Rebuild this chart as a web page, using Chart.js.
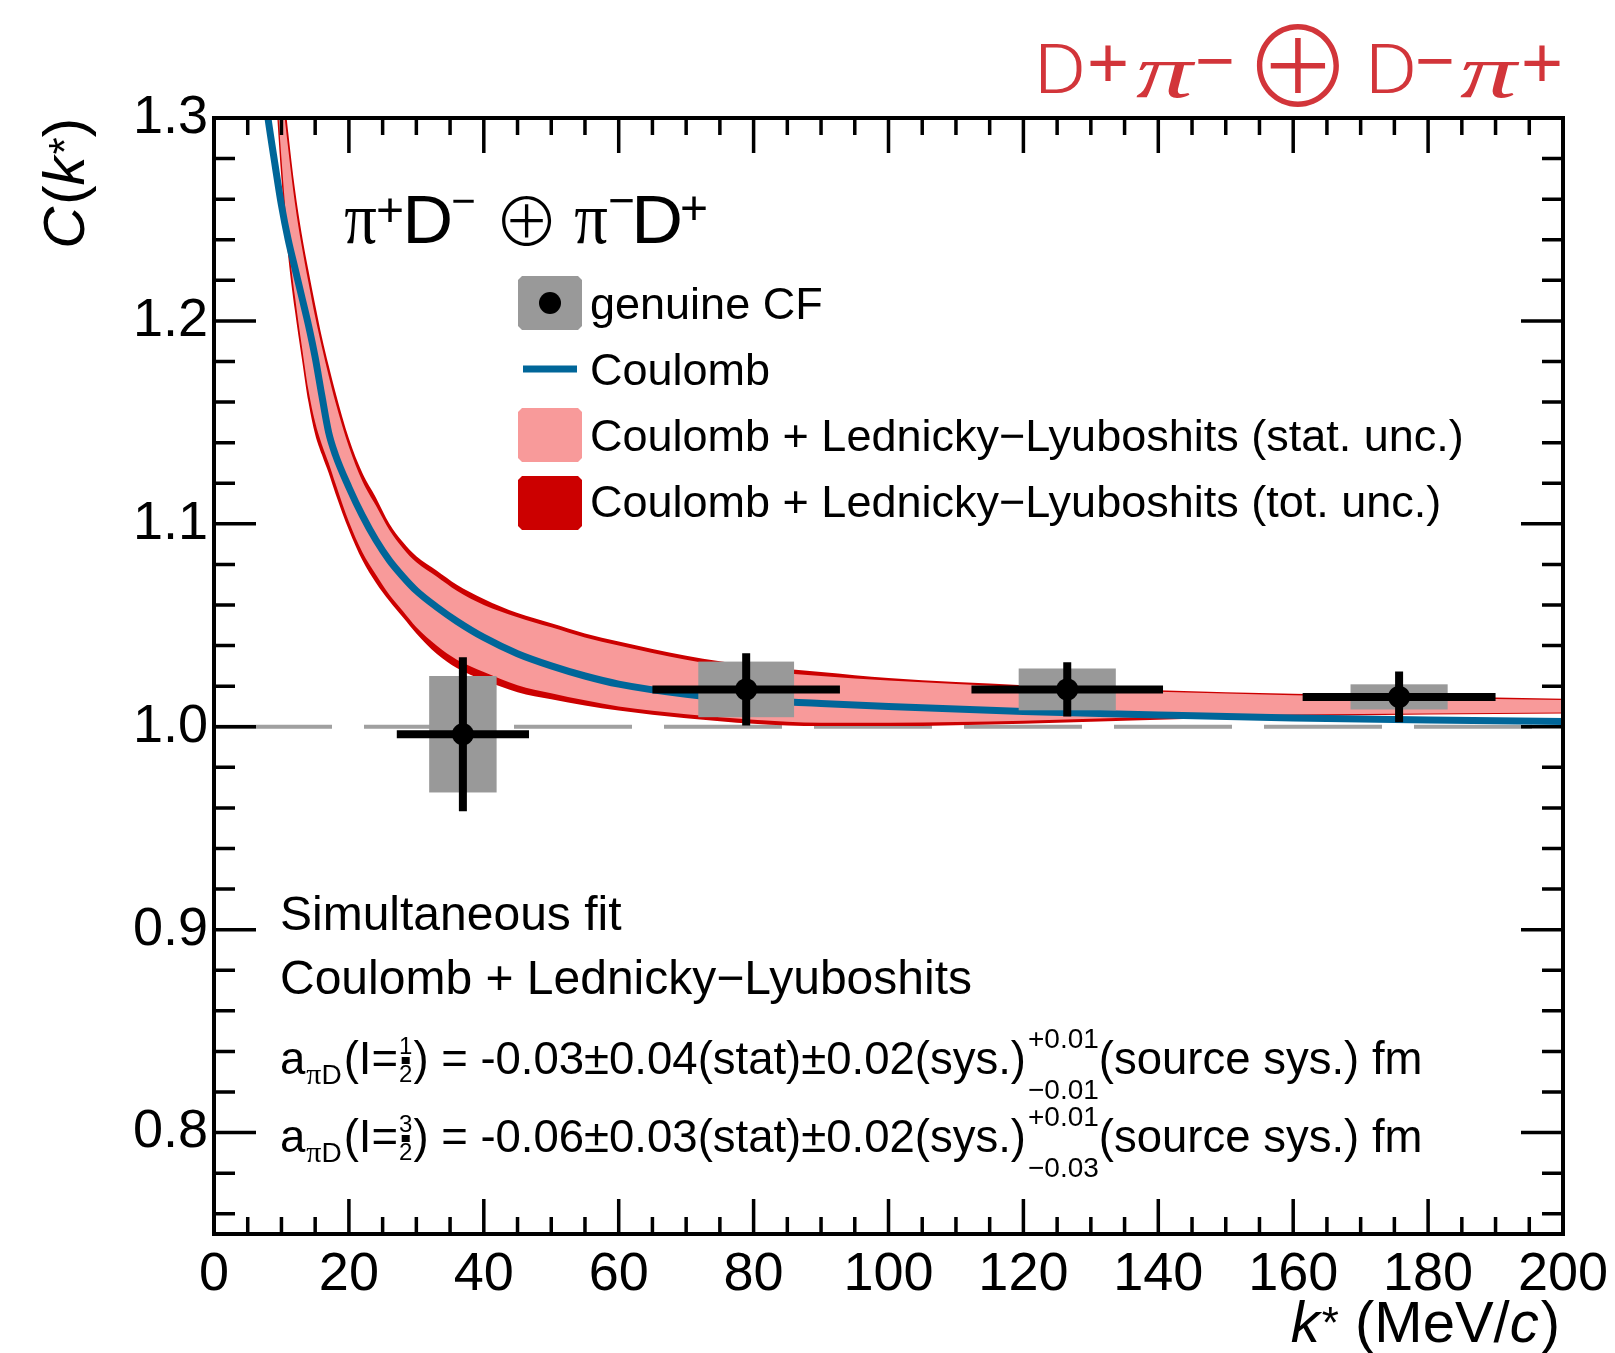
<!DOCTYPE html>
<html><head><meta charset="utf-8">
<script src="https://cdn.jsdelivr.net/npm/chart.js@4.4.1/dist/chart.umd.min.js"></script>
<style>html,body{margin:0;padding:0;background:#fff;}canvas{display:block;}</style>
</head><body>
<canvas id="c" width="1615" height="1353"></canvas>
<script>
// ---------------- data ----------------
const kGrid      = [9, 10, 11, 12, 13, 14, 15, 16, 17, 18, 20, 22, 24, 26, 28, 30, 33, 36, 40, 45, 50, 55, 60, 70, 80, 90, 100, 120, 140, 160, 180, 200];
const totUpper   = [1.360, 1.325, 1.293, 1.265, 1.243, 1.225, 1.208, 1.192, 1.178, 1.165, 1.142, 1.125, 1.113, 1.100, 1.091, 1.084, 1.077, 1.070, 1.063, 1.056, 1.051, 1.046, 1.042, 1.035, 1.030, 1.027, 1.024, 1.0205, 1.018, 1.0162, 1.015, 1.0138];
const statUpper  = [1.350, 1.315, 1.285, 1.258, 1.237, 1.219, 1.202, 1.187, 1.173, 1.160, 1.138, 1.121, 1.109, 1.097, 1.088, 1.081, 1.074, 1.067, 1.060, 1.054, 1.049, 1.044, 1.040, 1.033, 1.028, 1.025, 1.0228, 1.0195, 1.0172, 1.0155, 1.0143, 1.0132];
const statLower  = [1.330, 1.280, 1.240, 1.212, 1.188, 1.166, 1.150, 1.139, 1.130, 1.120, 1.101, 1.086, 1.075, 1.065, 1.057, 1.049, 1.040, 1.033, 1.027, 1.0205, 1.0165, 1.013, 1.010, 1.0062, 1.0035, 1.002, 1.002, 1.003, 1.0048, 1.006, 1.0065, 1.007];
const totLower   = [1.320, 1.270, 1.232, 1.205, 1.182, 1.160, 1.144, 1.134, 1.125, 1.115, 1.097, 1.082, 1.071, 1.062, 1.054, 1.046, 1.036, 1.029, 1.023, 1.017, 1.0135, 1.0105, 1.008, 1.0042, 1.0015, 1.0003, 1.0003, 1.0015, 1.0035, 1.0052, 1.006, 1.0065];

const coulombK   = [7, 8, 9, 10, 11, 12, 13, 14, 15, 16, 17, 18, 20, 22, 24, 26, 28, 30, 33, 36, 40, 45, 50, 55, 60, 70, 80, 90, 100, 120, 140, 160, 180, 200];
const coulombC   = [1.325, 1.300, 1.278, 1.257, 1.240, 1.226, 1.212, 1.198, 1.182, 1.163, 1.145, 1.134, 1.118, 1.104, 1.092, 1.082, 1.074, 1.067, 1.059, 1.052, 1.044, 1.036, 1.030, 1.025, 1.021, 1.016, 1.013, 1.0115, 1.010, 1.0075, 1.0058, 1.0043, 1.0033, 1.0026];

const dataK            = [36.9, 78.9, 126.5, 175.7];
const dataC            = [0.9963, 1.0184, 1.0184, 1.0147];
const dataStatErr      = [0.038, 0.0178, 0.0134, 0.0125];
const dataKErr         = [9.8, 13.9, 14.2, 14.3];
const dataSysErr       = [0.0287, 0.0137, 0.0103, 0.0062];
const dataSysHalfWidth = [5.0, 7.1, 7.2, 7.2];

const baselineK  = [0, 200];
const baselineC  = [1.0, 1.0];

const xTickValues = [0, 20, 40, 60, 80, 100, 120, 140, 160, 180, 200];
const yTickValues = [0.8, 0.9, 1.0, 1.1, 1.2, 1.3];
const xMinorStep = 5, yMinorStep = 0.02;
const xRange = [0, 200], yRange = [0.75, 1.3];

// ---------------- style ----------------
const BLUE = '#006699', PINK = '#F89A9A', RED = '#CC0000', GRAY = '#999999', TITLE_RED = '#D2353A';
const SANS = '"Liberation Sans", Arial, Helvetica, sans-serif';
const SERIF = '"Liberation Serif", "Times New Roman", serif';
const OPLUS = '"Noto Sans CJK JP", "DejaVu Sans", sans-serif';

const pts = (xs, ys) => xs.map((v, i) => ({x: v, y: ys[i]}));
const band = {pointRadius: 0, borderWidth: 0, cubicInterpolationMode: 'monotone', clip: 0};

function drawRuns(ctx, x, y, runs, measureOnly) {
  let cx = x;
  for (const r of runs) {
    if (r.stack) {
      ctx.font = r.f;
      const w1 = ctx.measureText(r.stack[0]).width, w2 = ctx.measureText(r.stack[1]).width;
      if (!measureOnly) {
        ctx.fillText(r.stack[0], cx, y + r.dy[0]);
        ctx.fillText(r.stack[1], cx, y + r.dy[1]);
      }
      cx += Math.max(w1, w2) + (r.sp || 0);
      continue;
    }
    if (r.frac) {
      ctx.font = r.f;
      const w = Math.max(ctx.measureText(r.frac[0]).width, ctx.measureText(r.frac[1]).width);
      if (!measureOnly) {
        ctx.textAlign = 'center';
        ctx.fillText(r.frac[0], cx + w / 2 + 1, y + r.dy[0]);
        ctx.fillText(r.frac[1], cx + w / 2 + 1, y + r.dy[1]);
        ctx.textAlign = 'left';
        ctx.fillRect(cx + w / 2 + 1 - 4, y + r.bar - 3, 8, 7);
      }
      cx += w + 2;
      continue;
    }
    ctx.font = r.f;
    const w = ctx.measureText(r.t).width;
    if (!measureOnly) ctx.fillText(r.t, cx, y + (r.dy || 0));
    cx += w + (r.sp || 0);
  }
  return cx - x;
}

// draw one glyph run fitted into a box [x0, y0, x1, y1]; 'stretch' fits both axes, otherwise width only (centred vertically)
function fitText(ctx, text, fontTpl, box, stretch) {
  ctx.font = fontTpl.replace('{s}', '100');
  const m = ctx.measureText(text);
  const gw = m.actualBoundingBoxLeft + m.actualBoundingBoxRight;
  const gh = m.actualBoundingBoxAscent + m.actualBoundingBoxDescent;
  const sx = (box[2] - box[0]) / gw;
  const sy = stretch ? (box[3] - box[1]) / gh : sx;
  const cy = (box[1] + box[3]) / 2;
  const ox = box[0] + m.actualBoundingBoxLeft * sx;
  const oy = cy + (m.actualBoundingBoxAscent - m.actualBoundingBoxDescent) / 2 * sy;
  ctx.save();
  ctx.translate(ox, oy); ctx.scale(sx, sy);
  ctx.fillText(text, 0, 0);
  ctx.restore();
}

// ---------------- plugins ----------------
const pointsPlugin = {
  id: 'cfPoints',
  afterDatasetsDraw(chart) {
    const {ctx, chartArea: ca} = chart;
    const xs = chart.scales.x, ys = chart.scales.y;
    ctx.save();
    ctx.beginPath(); ctx.rect(ca.left, ca.top, ca.width, ca.height); ctx.clip();
    ctx.fillStyle = GRAY;
    dataK.forEach((k, i) => {
      const x0 = xs.getPixelForValue(k - dataSysHalfWidth[i]), x1 = xs.getPixelForValue(k + dataSysHalfWidth[i]);
      const y0 = ys.getPixelForValue(dataC[i] + dataSysErr[i]), y1 = ys.getPixelForValue(dataC[i] - dataSysErr[i]);
      ctx.fillRect(x0, y0, x1 - x0, y1 - y0);
    });
    ctx.strokeStyle = '#000'; ctx.lineWidth = 8; ctx.lineCap = 'butt';
    dataK.forEach((k, i) => {
      const px = xs.getPixelForValue(k), py = ys.getPixelForValue(dataC[i]);
      ctx.beginPath();
      ctx.moveTo(xs.getPixelForValue(k - dataKErr[i]), py);
      ctx.lineTo(xs.getPixelForValue(k + dataKErr[i]), py);
      ctx.moveTo(px, ys.getPixelForValue(dataC[i] + dataStatErr[i]));
      ctx.lineTo(px, ys.getPixelForValue(dataC[i] - dataStatErr[i]));
      ctx.stroke();
    });
    ctx.fillStyle = '#000';
    dataK.forEach((k, i) => {
      ctx.beginPath();
      ctx.arc(xs.getPixelForValue(k), ys.getPixelForValue(dataC[i]), 11, 0, Math.PI * 2);
      ctx.fill();
    });
    ctx.restore();
  }
};

const framePlugin = {
  id: 'frame',
  afterDraw(chart) {
    const {ctx, chartArea: ca} = chart;
    const xs = chart.scales.x, ys = chart.scales.y;
    ctx.save();
    ctx.strokeStyle = '#000'; ctx.lineCap = 'butt';
    ctx.lineWidth = 3.5;
    ctx.beginPath();
    const nx0 = Math.ceil(xRange[0] / xMinorStep - 1e-9), nx1 = Math.floor(xRange[1] / xMinorStep + 1e-9);
    for (let n = nx0; n <= nx1; n++) {
      const v = n * xMinorStep;
      const major = xTickValues.some(t => Math.abs(t - v) < 1e-9);
      const L = major ? 35 : 17;
      const px = xs.getPixelForValue(v);
      ctx.moveTo(px, ca.bottom); ctx.lineTo(px, ca.bottom - L);
      ctx.moveTo(px, ca.top); ctx.lineTo(px, ca.top + L);
    }
    const ny0 = Math.ceil(yRange[0] / yMinorStep - 1e-9), ny1 = Math.floor(yRange[1] / yMinorStep + 1e-9);
    for (let n = ny0; n <= ny1; n++) {
      const v = n * yMinorStep;
      const major = yTickValues.some(t => Math.abs(t - v) < 1e-9);
      const L = major ? 42 : 21;
      const py = ys.getPixelForValue(v);
      ctx.moveTo(ca.left, py); ctx.lineTo(ca.left + L, py);
      ctx.moveTo(ca.right, py); ctx.lineTo(ca.right - L, py);
    }
    ctx.stroke();
    ctx.lineWidth = 4;
    ctx.strokeRect(ca.left, ca.top, ca.right - ca.left, ca.bottom - ca.top);
    ctx.restore();
  }
};

const textPlugin = {
  id: 'texts',
  afterDraw(chart) {
    const ctx = chart.ctx;
    ctx.save();
    ctx.textBaseline = 'alphabetic'; ctx.textAlign = 'left';
    ctx.fillStyle = '#000';

    // ---- legend ----
    const bx = 518, bw = 64, bh = 54;
    const chamfer = (x, y, w, h, c) => {
      ctx.beginPath();
      ctx.moveTo(x + c, y); ctx.lineTo(x + w - c, y); ctx.lineTo(x + w, y + c); ctx.lineTo(x + w, y + h - c);
      ctx.lineTo(x + w - c, y + h); ctx.lineTo(x + c, y + h); ctx.lineTo(x, y + h - c); ctx.lineTo(x, y + c);
      ctx.closePath(); ctx.fill();
    };
    ctx.fillStyle = GRAY; chamfer(bx, 276, bw, bh, 4);
    ctx.fillStyle = '#000'; ctx.beginPath(); ctx.arc(bx + bw / 2, 303, 11, 0, Math.PI * 2); ctx.fill();
    ctx.strokeStyle = BLUE; ctx.lineWidth = 7; ctx.beginPath(); ctx.moveTo(bx + 5, 369); ctx.lineTo(bx + bw - 5, 369); ctx.stroke();
    ctx.fillStyle = PINK; chamfer(bx, 408, bw, bh, 4);
    ctx.fillStyle = RED; chamfer(bx, 476, bw, bh, 4);
    ctx.fillStyle = '#000';
    ctx.font = '45px ' + SANS;
    const legendText = ['genuine CF', 'Coulomb', 'Coulomb + Lednicky\u2212Lyuboshits (stat. unc.)', 'Coulomb + Lednicky\u2212Lyuboshits (tot. unc.)'];
    const legendBase = [319, 385, 451, 517];
    legendText.forEach((t, i) => ctx.fillText(t, 590, legendBase[i]));

    // ---- system label: π+D− ⊕ π−D+ ----
    const sansT = '{s}px ' + SANS, serifT = '{s}px ' + SERIF, oplusT = '300 {s}px ' + OPLUS;
    fitText(ctx, '\u03C0', serifT, [345, 209, 376, 244], true);
    fitText(ctx, '+', sansT, [378, 198, 402, 222]);
    fitText(ctx, 'D', sansT, [408, 196, 450, 243], true);
    fitText(ctx, '\u2212', sansT, [453, 199, 474, 203]);
    fitText(ctx, '\u2295', oplusT, [502, 196, 551, 245]);
    fitText(ctx, '\u03C0', serifT, [575, 209, 607, 244], true);
    fitText(ctx, '\u2212', sansT, [610, 199, 633, 203]);
    fitText(ctx, 'D', sansT, [637, 196, 680, 243], true);
    fitText(ctx, '+', sansT, [682, 196, 706, 220]);

    // ---- fit annotations ----
    ctx.font = '48px ' + SANS;
    ctx.fillText('Simultaneous fit', 280, 930);
    ctx.fillText('Coulomb + Lednicky\u2212Lyuboshits', 280, 994);
    const f45 = '45.5px ' + SANS, fsub = '28px ' + SANS, fsubpi = '30px ' + SERIF, ffrac = '24px ' + SANS;
    const eq = (y, num, val, up, dn) => drawRuns(ctx, 280, y, [
      {t: 'a', f: f45, sp: 1},
      {t: '\u03C0', f: fsubpi, dy: 10}, {t: 'D', f: fsub, dy: 10, sp: 2},
      {t: '(I=', f: f45},
      {frac: [num, '2'], f: ffrac, dy: [-20, 8], bar: -14},
      {t: ') = ' + val + '\u00B10.02(sys.)', f: f45, sp: 2},
      {stack: [up, dn], f: fsub, dy: [-26, 25]},
      {t: '(source sys.) fm', f: f45}
    ]);
    eq(1074, '1', '-0.03\u00B10.04(stat)', '+0.01', '\u22120.01');
    eq(1152, '3', '-0.06\u00B10.03(stat)', '+0.01', '\u22120.03');

    // ---- axis titles ----
    const ft = '58px ' + SANS, fti = 'italic 58px ' + SANS, fst = '44px ' + SANS;
    const xt = [{t: 'k', f: fti, sp: 2}, {t: '*', f: fst, dy: -4}, {t: ' (MeV/', f: ft}, {t: 'c', f: fti, sp: 2}, {t: ')', f: ft}];
    const wx = drawRuns(ctx, 0, 0, xt, true);
    drawRuns(ctx, 1560 - wx, 1342, xt);
    const yt = [{t: 'C', f: fti, sp: 2}, {t: '(', f: ft}, {t: 'k', f: fti, sp: 2}, {t: '*', f: fst, dy: -4}, {t: ')', f: ft}];
    const wy = drawRuns(ctx, 0, 0, yt, true);
    ctx.save(); ctx.translate(84, 118 + wy); ctx.rotate(-Math.PI / 2);
    drawRuns(ctx, 0, 0, yt); ctx.restore();

    // ---- red title: D+π− ⊕ D−π+ ----
    ctx.fillStyle = TITLE_RED;
    const robT = '300 {s}px Roboto, ' + SANS, piT = 'italic {s}px ' + SERIF;
    fitText(ctx, 'D', robT, [1041, 44, 1082, 93], true);
    fitText(ctx, '+', sansT, [1090, 45, 1126, 81]);
    fitText(ctx, '\u03C0', piT, [1136, 62, 1196, 98], true);
    fitText(ctx, '\u2212', sansT, [1198, 60, 1232, 64]);
    fitText(ctx, '\u2295', oplusT, [1257, 25, 1339, 107]);
    fitText(ctx, 'D', robT, [1372, 44, 1413, 93], true);
    fitText(ctx, '\u2212', sansT, [1418, 60, 1452, 64]);
    fitText(ctx, '\u03C0', piT, [1460, 62, 1520, 98], true);
    fitText(ctx, '+', sansT, [1524, 45, 1560, 81]);
    ctx.restore();
  }
};

// ---------------- chart ----------------
new Chart(document.getElementById('c'), {
  type: 'line',
  data: {
    datasets: [
      Object.assign({label: 'tot upper', data: pts(kGrid, totUpper), fill: false, order: 5, backgroundColor: RED}, band),
      Object.assign({label: 'Coulomb + Lednicky-Lyuboshits (tot. unc.)', data: pts(kGrid, totLower), fill: 0, order: 4, backgroundColor: RED}, band),
      Object.assign({label: 'stat upper', data: pts(kGrid, statUpper), fill: false, order: 3, backgroundColor: PINK}, band),
      Object.assign({label: 'Coulomb + Lednicky-Lyuboshits (stat. unc.)', data: pts(kGrid, statLower), fill: 2, order: 2, backgroundColor: PINK}, band),
      {label: 'Coulomb', data: pts(coulombK, coulombC), borderColor: BLUE, borderWidth: 7, pointRadius: 0, fill: false,
       cubicInterpolationMode: 'monotone', order: 1, clip: 0},
      {label: 'baseline', data: pts(baselineK, baselineC), borderColor: '#A0A0A0', borderWidth: 4, borderDash: [118, 32],
       pointRadius: 0, fill: false, order: 6, clip: 0}
    ]
  },
  options: {
    responsive: false, animation: false, devicePixelRatio: 1,
    layout: {padding: {top: 118, right: 52, left: 0, bottom: 0}},
    plugins: {legend: {display: false}, tooltip: {enabled: false}, title: {display: false}},
    scales: {
      x: {
        type: 'linear', min: xRange[0], max: xRange[1],
        afterBuildTicks: s => { s.ticks = xTickValues.map(v => ({value: v})); },
        afterFit: s => { s.height = 119; },
        grid: {display: false}, border: {display: false},
        ticks: {font: {size: 54, family: SANS}, color: '#000', padding: 1, maxRotation: 0, autoSkip: false,
                callback: v => String(Math.round(v))}
      },
      y: {
        type: 'linear', min: yRange[0], max: yRange[1],
        afterBuildTicks: s => { s.ticks = yTickValues.map(v => ({value: v})); },
        afterFit: s => { s.width = 214; },
        grid: {display: false}, border: {display: false},
        ticks: {font: {size: 54, family: SANS}, color: '#000', padding: -2, autoSkip: false,
                callback: v => Number(v).toFixed(1)}
      }
    }
  },
  plugins: [pointsPlugin, framePlugin, textPlugin]
});
</script></body></html>
